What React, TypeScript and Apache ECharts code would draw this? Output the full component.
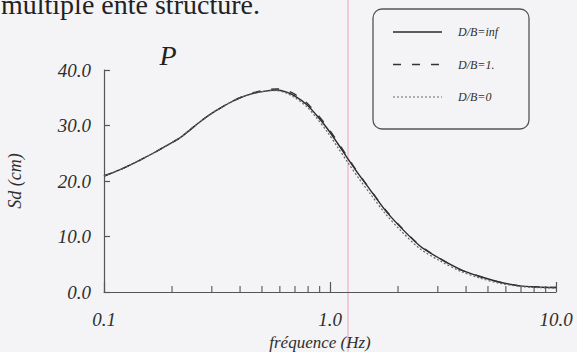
import React, { useEffect, useRef } from "react";
import * as echarts from "echarts";

// Displacement spectra Sd (cm) against frequency (Hz), log frequency axis
const freq = [0.1, 0.12, 0.14, 0.165, 0.19, 0.217, 0.24, 0.261, 0.29, 0.32, 0.36, 0.4, 0.45, 0.516, 0.58, 0.643, 0.7, 0.788, 0.87, 0.967, 1.08, 1.205, 1.35, 1.5, 1.75, 2.04, 2.5, 3.07, 3.8, 4.61, 5.6, 6.93, 8.3, 10];
const sdInf = [20.9, 22.2, 23.5, 25.0, 26.4, 27.8, 29.2, 30.4, 31.8, 32.9, 34.1, 35.0, 35.7, 36.2, 36.4, 36.0, 35.3, 33.8, 31.9, 29.6, 26.8, 23.9, 21.0, 18.5, 14.8, 11.8, 8.3, 6.0, 4.0, 2.8, 1.8, 1.1, 0.9, 0.8];
const sdOne = [20.9, 22.2, 23.5, 25.0, 26.4, 27.8, 29.2, 30.4, 31.8, 32.9, 34.1, 35.0, 35.8, 36.4, 36.6, 36.3, 35.6, 34.1, 32.2, 29.9, 27.1, 24.1, 21.1, 18.6, 14.9, 11.9, 8.4, 6.0, 4.0, 2.8, 1.8, 1.1, 0.9, 0.8];
const sdZero = [20.9, 22.2, 23.5, 25.0, 26.4, 27.8, 29.2, 30.4, 31.8, 32.9, 34.1, 35.0, 35.7, 36.2, 36.3, 35.8, 35.0, 33.4, 31.4, 29.0, 26.1, 23.2, 20.3, 17.8, 14.2, 11.2, 7.8, 5.6, 3.7, 2.5, 1.6, 1.0, 0.8, 0.7];

const seriesNames = ["D/B=inf", "D/B=1.", "D/B=0"];
const minorTicks = [0.2, 0.3, 0.4, 0.5, 0.6, 0.7, 0.8, 0.9, 2, 3, 4, 5, 6, 7, 8, 9];

const ink = "#2e2e2e";
const serif = "'Liberation Serif', 'DejaVu Serif', serif";

const lineStyles = [
  { color: "#2a2a2a", width: 1.4, dash: null as number[] | null },
  { color: "#333", width: 1.4, dash: [8, 11] },
  { color: "#666", width: 1.2, dash: [2, 2] },
];

const pairs = (ys: number[]) => freq.map((f, i) => [f, ys[i]]);

export default function App() {
  const ref = useRef<HTMLDivElement>(null);

  useEffect(() => {
    if (!ref.current) return;
    const chart = echarts.init(ref.current, null, { renderer: "svg" });
    const lineBase = { type: "line", smooth: 0.3, symbol: "none", showSymbol: false, z: 3 };
    const seriesData = [sdInf, sdOne, sdZero];

    // legend box entries: a line sample and its label per series
    const legendItems: any[] = [];
    seriesNames.forEach((name, i) => {
      const y = 32 + i * 32.5;
      const s = lineStyles[i];
      legendItems.push({
        type: "line",
        shape: { x1: 393, y1: y, x2: 442, y2: y },
        style: { stroke: s.color, lineWidth: s.width, lineDash: s.dash || undefined },
        silent: true,
        z: 5,
      });
      legendItems.push({
        type: "text",
        x: 458,
        y,
        style: { text: name, font: `italic 12px ${serif}`, fill: ink, verticalAlign: "middle" },
        silent: true,
        z: 5,
      });
    });

    chart.setOption({
      animation: false,
      backgroundColor: "#f4f4f6",
      grid: { left: 104, right: 21, top: 70, bottom: 60, containLabel: false, outerBoundsMode: "none" },
      xAxis: {
        type: "log",
        logBase: 10,
        min: 0.1,
        max: 10,
        name: "fréquence (Hz)",
        nameLocation: "middle",
        nameGap: 42,
        nameTextStyle: { color: ink, fontFamily: serif, fontStyle: "italic", fontSize: 17, padding: [0, 20, 0, 0] },
        axisLine: { lineStyle: { color: "#555", width: 1.2 } },
        axisTick: { inside: true, length: 10, lineStyle: { color: "#555", width: 1.2 } },
        axisLabel: {
          color: ink,
          fontFamily: serif,
          fontStyle: "italic",
          fontSize: 19,
          margin: 18,
          formatter: (v: number) => v.toFixed(1),
        },
        splitLine: { show: false },
      },
      yAxis: {
        type: "value",
        min: 0,
        max: 40,
        interval: 10,
        name: "Sd (cm)",
        nameLocation: "middle",
        nameGap: 80,
        nameRotate: 90,
        nameTextStyle: { color: ink, fontFamily: serif, fontStyle: "italic", fontSize: 18 },
        axisLine: { show: true, lineStyle: { color: "#555", width: 1.2 } },
        axisTick: { show: true, inside: true, length: 6, lineStyle: { color: "#555", width: 1.2 } },
        axisLabel: {
          color: ink,
          fontFamily: serif,
          fontStyle: "italic",
          fontSize: 19,
          margin: 13,
          formatter: (v: number) => v.toFixed(1),
        },
        splitLine: { show: false },
      },
      series: [
        ...seriesNames.map((name, i) => ({
          ...lineBase,
          name,
          data: pairs(seriesData[i]),
          lineStyle: { color: lineStyles[i].color, width: lineStyles[i].width, type: lineStyles[i].dash || "solid" },
        })),
        {
          type: "custom",
          name: "ticks",
          silent: true,
          data: minorTicks.map((v) => [v, 0]),
          renderItem: (params: any, api: any) => {
            const p = api.coord([api.value(0), 0]);
            return {
              type: "line",
              shape: { x1: p[0], y1: p[1], x2: p[0], y2: p[1] - 6 },
              style: { stroke: "#555", lineWidth: 1.1 },
            };
          },
          z: 2,
        },
      ],
      graphic: [
        {
          type: "line",
          shape: { x1: 348, y1: 0, x2: 348, y2: 352 },
          style: { stroke: "#f1bcd0", lineWidth: 1.5 },
          z: 0,
          silent: true,
        },
        {
          type: "text",
          x: 1,
          y: 4,
          style: { text: "multiple ente structure.", font: `28px ${serif}`, fill: "#222", verticalAlign: "middle" },
          silent: true,
        },
        {
          type: "text",
          x: 168,
          y: 55,
          style: { text: "P", font: `italic 28px ${serif}`, fill: "#222", align: "center", verticalAlign: "middle" },
          silent: true,
        },
        {
          type: "rect",
          shape: { x: 373, y: 9, width: 156, height: 120, r: 9 },
          style: { fill: "rgba(0,0,0,0)", stroke: "#555", lineWidth: 1.3 },
          z: 1,
          silent: true,
        },
        ...legendItems,
      ],
    });
    return () => chart.dispose();
  }, []);

  return <div ref={ref} style={{ position: "absolute", left: 0, top: 0, width: 577, height: 352 }} />;
}
